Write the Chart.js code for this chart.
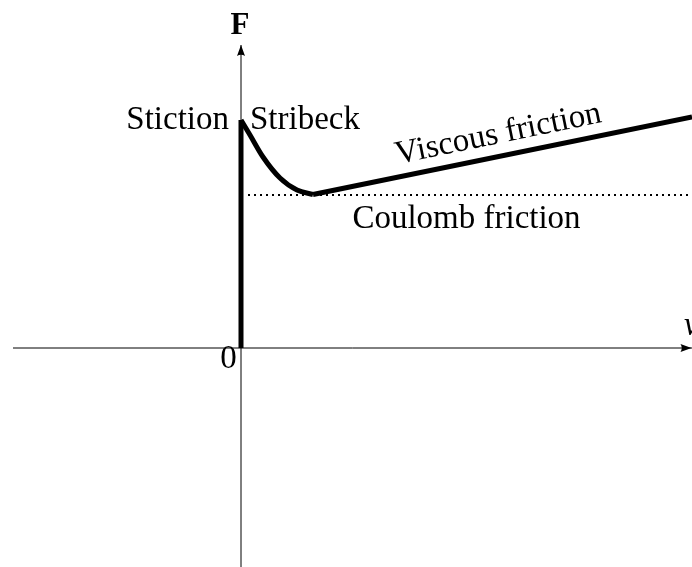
<!DOCTYPE html>
<html>
<head>
<meta charset="utf-8">
<title>Friction model</title>
<script src="https://cdn.jsdelivr.net/npm/chart.js@4.4.1/dist/chart.umd.min.js"></script>
<style>
  html, body { margin: 0; padding: 0; background: #fff; }
  canvas { display: block; }
</style>
</head>
<body>
<canvas id="chart" width="692" height="567"></canvas>
<script>
// Friction force F against velocity v (arbitrary units)
const stictionV = [0, 0];
const stictionF = [0, 4.56];

// Stribeck dip from static friction down to the Coulomb level
const stribeckV = [0, 0.18, 0.44, 0.78, 1.12, 1.44];
const stribeckF = [4.56, 4.26, 3.82, 3.40, 3.16, 3.07];

// Viscous rise above the Coulomb level
const viscousV = [1.44, 9.02];
const viscousF = [3.07, 4.62];

// Coulomb friction level (dotted)
const coulombV = [0.14, 9.02];
const coulombF = [3.06, 3.06];

// Axis extents
const vAxisV = [-4.56, 9.02];
const fAxisF = [-4.38, 6.06];

const toPoints = (xs, ys) => xs.map((x, i) => ({ x: x, y: ys[i] }));

const serif = '"Liberation Serif", "DejaVu Serif", serif';

// Text labels anchored in data coordinates
const labels = [
  { text: 'Stiction', x: -0.24, y: 4.38, align: 'right' },
  { text: 'Stribeck', x: 0.18, y: 4.38, align: 'left' },
  { text: 'Coulomb friction', x: 4.51, y: 2.40, align: 'center' },
  { text: 'Viscous friction', x: 5.18, y: 4.10, align: 'center', alongViscous: true },
  { text: '0', x: -0.25, y: -0.40, align: 'center' },
  { text: 'F', x: -0.02, y: 6.28, align: 'center', weight: 'bold', size: 31 },
  { text: 'v', x: 8.86, y: 0.26, align: 'left', style: 'italic' }
];

const decorations = {
  id: 'decorations',
  afterDatasetsDraw(chart) {
    const ctx = chart.ctx;
    const xs = chart.scales.x, ys = chart.scales.y;
    const px = v => xs.getPixelForValue(v);
    const py = f => ys.getPixelForValue(f);
    ctx.save();
    ctx.fillStyle = '#000';

    // arrow heads on the axes
    const arrow = (tx, ty, dx, dy) => {
      const len = 11, half = 4;
      const bx = tx - dx * len, by = ty - dy * len;
      ctx.beginPath();
      ctx.moveTo(tx, ty);
      ctx.lineTo(bx - dy * half, by + dx * half);
      ctx.quadraticCurveTo(bx + dx * 2.5, by + dy * 2.5, bx + dy * half, by - dx * half);
      ctx.closePath();
      ctx.fill();
    };
    arrow(px(0), py(fAxisF[1]), 0, -1);
    arrow(px(vAxisV[1]) - 0.5, py(0), 1, 0);

    // labels
    const ang = Math.atan2(py(viscousF[1]) - py(viscousF[0]),
                           px(viscousV[1]) - px(viscousV[0]));
    ctx.textBaseline = 'alphabetic';
    labels.forEach(l => {
      ctx.font = (l.style || 'normal') + ' ' + (l.weight || 'normal') + ' ' +
                 (l.size || 33) + 'px ' + serif;
      ctx.textAlign = l.align;
      ctx.save();
      ctx.translate(px(l.x), py(l.y));
      if (l.alongViscous) ctx.rotate(ang);
      ctx.fillText(l.text, 0, 0);
      ctx.restore();
    });
    ctx.restore();
  }
};

const thick = { showLine: true, borderColor: '#000', borderWidth: 5,
                borderJoinStyle: 'round', borderCapStyle: 'butt', pointRadius: 0, order: 1 };

new Chart(document.getElementById('chart'), {
  type: 'scatter',
  data: {
    datasets: [
      {
        label: 'v axis',
        data: toPoints(vAxisV, [0, 0]),
        showLine: true, borderColor: '#000', borderWidth: 1,
        pointRadius: 0, order: 5
      },
      {
        label: 'F axis',
        data: toPoints([0, 0], fAxisF),
        showLine: true, borderColor: '#000', borderWidth: 1,
        pointRadius: 0, order: 5
      },
      {
        label: 'Coulomb',
        data: toPoints(coulombV, coulombF),
        showLine: true, borderColor: '#000', borderWidth: 2,
        borderDash: [2, 4], borderCapStyle: 'butt',
        pointRadius: 0, order: 4
      },
      Object.assign({ label: 'Stiction', data: toPoints(stictionV, stictionF) }, thick),
      Object.assign({ label: 'Stribeck', data: toPoints(stribeckV, stribeckF),
                      cubicInterpolationMode: 'monotone' }, thick),
      Object.assign({ label: 'Viscous', data: toPoints(viscousV, viscousF) }, thick)
    ]
  },
  options: {
    responsive: false,
    animation: false,
    devicePixelRatio: 1,
    layout: { padding: 0 },
    plugins: { legend: { display: false }, tooltip: { enabled: false } },
    scales: {
      x: { type: 'linear', min: -4.82, max: 9.02, display: false },
      y: { type: 'linear', min: -4.38, max: 6.96, display: false }
    }
  },
  plugins: [decorations]
});
</script>
</body>
</html>
